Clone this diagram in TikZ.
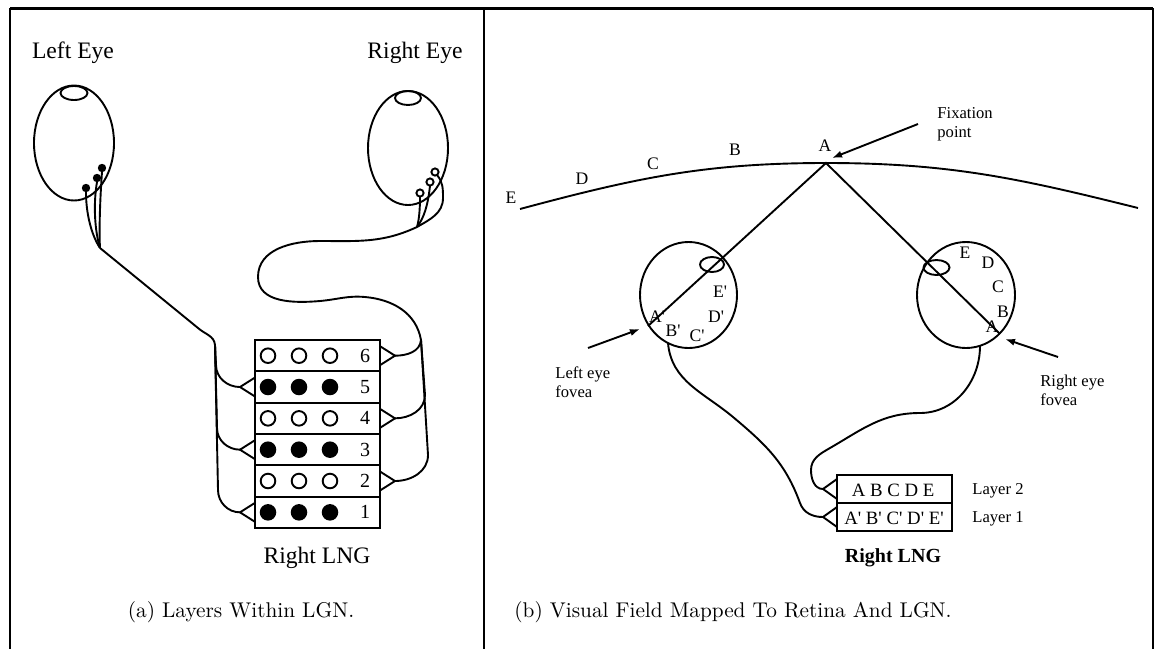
\documentclass[tikz,border=0pt]{standalone}
\usepackage{fontspec}
\newfontfamily\timesfont{Liberation Serif}
\usetikzlibrary{arrows.meta}

\begin{document}
\begin{tikzpicture}[
    x=0.5pt,y=-0.5pt,
    fibre/.style={line width=0.95pt},
    big/.style={font=\timesfont\fontsize{11.8}{13}\selectfont,inner sep=0pt},
    num/.style={font=\timesfont\fontsize{10}{12}\selectfont,inner sep=0pt},
    letter/.style={font=\timesfont\fontsize{8.8}{10}\selectfont,inner sep=0pt},
    note/.style={font=\timesfont\fontsize{8.3}{9.5}\selectfont,inner sep=0pt,align=left},
    caption/.style={font=\fontsize{10.65}{13}\selectfont,inner sep=0pt},
    pointer/.style={-{Latex[length=5pt,width=3.6pt]},line width=0.95pt}
  ]
  \useasboundingbox (0,0) rectangle (1156,649);

  % outer frame, split in two panels
  \draw[line width=1.5pt] (10,8) -- (1153,8);
  \draw[line width=1pt] (10,8) -- (10,649) (484,8) -- (484,649) (1153,8) -- (1153,649);

  %%% (a) layers within the LGN
  \node[big] (lefteye) at (73,53) {Left Eye};
  \node[big] (righteye) at (415,53) {Right Eye};

  \draw[fibre] (74,143) ellipse [x radius=40,y radius=57.5];
  \draw[fibre] (74,93) ellipse [x radius=13.5,y radius=7];
  \draw[fibre] (408,148) ellipse [x radius=40,y radius=57];
  \draw[fibre] (408,98) ellipse [x radius=13,y radius=7];

  % receptors: filled in the left eye, open in the right one
  \foreach \x/\y in {86/188, 97/178, 102/168}
    \fill (\x,\y) circle [radius=4.2];
  \foreach \x/\y in {420/193, 430/182, 435/172}
    \draw[fibre] (\x,\y) circle [radius=3.6];

  \coordinate (ljoin) at (100,248);
  \coordinate (ltrunk) at (215,345);
  \coordinate (rjoin) at (417,227);
  \coordinate (rtrunk) at (421,340);

  % the six layers
  \foreach \n/\cell/\tx in {1/black/240, 2/white/395, 3/black/240,
                            4/white/395, 5/black/240, 6/white/395} {
    \pgfmathsetmacro{\mid}{528-31.33*(\n-0.5)}
    \pgfmathsetmacro{\bx}{\tx<300 ? 255 : 380}
    \draw[fibre] (255,{\mid-15.67}) rectangle (380,{\mid+15.67});
    \foreach \cx in {268,299,330}
      \draw[fibre,fill=\cell] (\cx,\mid) circle [radius=7.3];
    \node[num] (num\n) at (365,\mid) {\n};
    \coordinate (tip\n) at (\tx,\mid);
    \draw[fibre] (\bx,{\mid-9.5}) -- (tip\n) -- (\bx,{\mid+9.5});
  }
  \node[big] (lgna) at (317,558) {Right LNG};

  % left eye fibres
  \draw[fibre] (86,192) .. controls (86,215) and (92,236) .. (ljoin);
  \draw[fibre] (97,182) .. controls (93,205) and (95,232) .. (ljoin);
  \draw[fibre] (102,172) .. controls (100,200) and (99,230) .. (ljoin);
  \draw[fibre] (ljoin) -- (198,328) to[out=-42,in=95] (ltrunk);
  \draw[fibre] (ltrunk) -- (216,365) to[out=-90,in=180] (tip5);
  \draw[fibre] (ltrunk) -- (217,428) to[out=-90,in=180] (tip3);
  \draw[fibre] (ltrunk) -- (218,490) to[out=-90,in=180] (tip1);

  % right eye fibres
  \draw[fibre] (420,196.6) .. controls (420,210) and (419,220) .. (rjoin);
  \draw[fibre] (430,185.6) .. controls (428,205) and (424,218) .. (rjoin);
  \draw[fibre] (437,175) to[out=-50,in=90] (443,198) to[out=-90,in=30] (rjoin);
  \draw[fibre] (rjoin) to[out=205,in=0] (320,241) to[out=180,in=90] (258,277)
    to[out=-90,in=185] (320,301) to[out=5,in=175] (365,297)
    to[out=-5,in=100] (rtrunk);
  \draw[fibre] (rtrunk) to[out=-95,in=0] (tip6);
  \draw[fibre] (rtrunk) -- (425,395) to[out=-90,in=0] (tip4);
  \draw[fibre] (rtrunk) -- (428,455) to[out=-90,in=0] (tip2);

  \node[caption] (capa) at (241,612) {(a) Layers Within LGN.};

  %%% (b) visual field mapped onto the retinas
  \coordinate (fix) at (826,163);
  \draw[fibre] (520,209) to[out=15,in=180] (fix) to[out=0,in=166] (1138,208);
  \foreach \t/\x/\y in {E/511/198, D/582/179, C/653/164, B/735/150, A/825/146}
    \node[letter] (field\t) at (\x,\y) {\t};

  \node[note,anchor=west] (fixlbl) at (937,124) {Fixation\\point};
  \draw[pointer] (918,124) -- (832,158);

  % eyes with lens
  \draw[fibre] (688.5,295) ellipse [x radius=48.5,y radius=53];
  \draw[fibre] (712,264.5) ellipse [x radius=12,y radius=7.5];
  \draw[fibre] (966,295) ellipse [x radius=49,y radius=53];
  \draw[fibre] (936.5,267.5) ellipse [x radius=13,y radius=7.5];

  \coordinate (lfov) at (648,326);
  \coordinate (rfov) at (1000,334);
  \draw[fibre] (lfov) -- (fix) -- (rfov);

  \foreach \t/\x/\y in {A/657/317, B/673/331, C/697/336, D/716/317, E/720/292}
    \node[letter] (img\t) at (\x,\y) {\t'};
  \foreach \t/\x/\y in {E/965/253, D/988/263, C/998/287, B/1003/312, A/992/327}
    \node[letter] (ret\t) at (\x,\y) {\t};

  \node[note,anchor=west] (lfovlbl) at (555,382) {Left eye\\fovea};
  \node[note,anchor=west] (rfovlbl) at (1040,390) {Right eye\\fovea};
  \draw[pointer] (588,348) -- (640,329);
  \draw[pointer] (1058,357) -- (1005,339);

  % two layer LGN
  \draw[fibre] (837,475) rectangle (952,531);
  \draw[fibre] (837,503) -- (952,503);
  \coordinate (tipL2) at (823,489);
  \coordinate (tipL1) at (823,517);
  \draw[fibre] (837,479) -- (tipL2) -- (837,499);
  \draw[fibre] (837,507) -- (tipL1) -- (837,527);
  \node[num,font=\timesfont\fontsize{9.4}{11}\selectfont] (row2) at (893,490) {A B C D E};
  \node[num,font=\timesfont\fontsize{9.4}{11}\selectfont] (row1) at (894,518) {A' B' C' D' E'};
  \node[note] (lay2) at (998,491) {Layer 2};
  \node[note] (lay1) at (998,519) {Layer 1};
  \node[big,font=\timesfont\bfseries\fontsize{10}{12}\selectfont] (lgnb) at (893,558) {Right LNG};

  \coordinate (lroot) at (668,343);
  \coordinate (rroot) at (980,346);
  \draw[fibre] (lroot) to[out=-85,in=140] (733,417) to[out=-40,in=110] (800,503)
    to[out=-70,in=180] (tipL1);
  \draw[fibre] (rroot) to[out=-90,in=0] (920,413) to[out=180,in=30] (830,448)
    to[out=210,in=90] (811,470) to[out=-90,in=180] (tipL2);

  \node[caption] (capb) at (733,612) {(b) Visual Field Mapped To Retina And LGN.};
\end{tikzpicture}
\end{document}
